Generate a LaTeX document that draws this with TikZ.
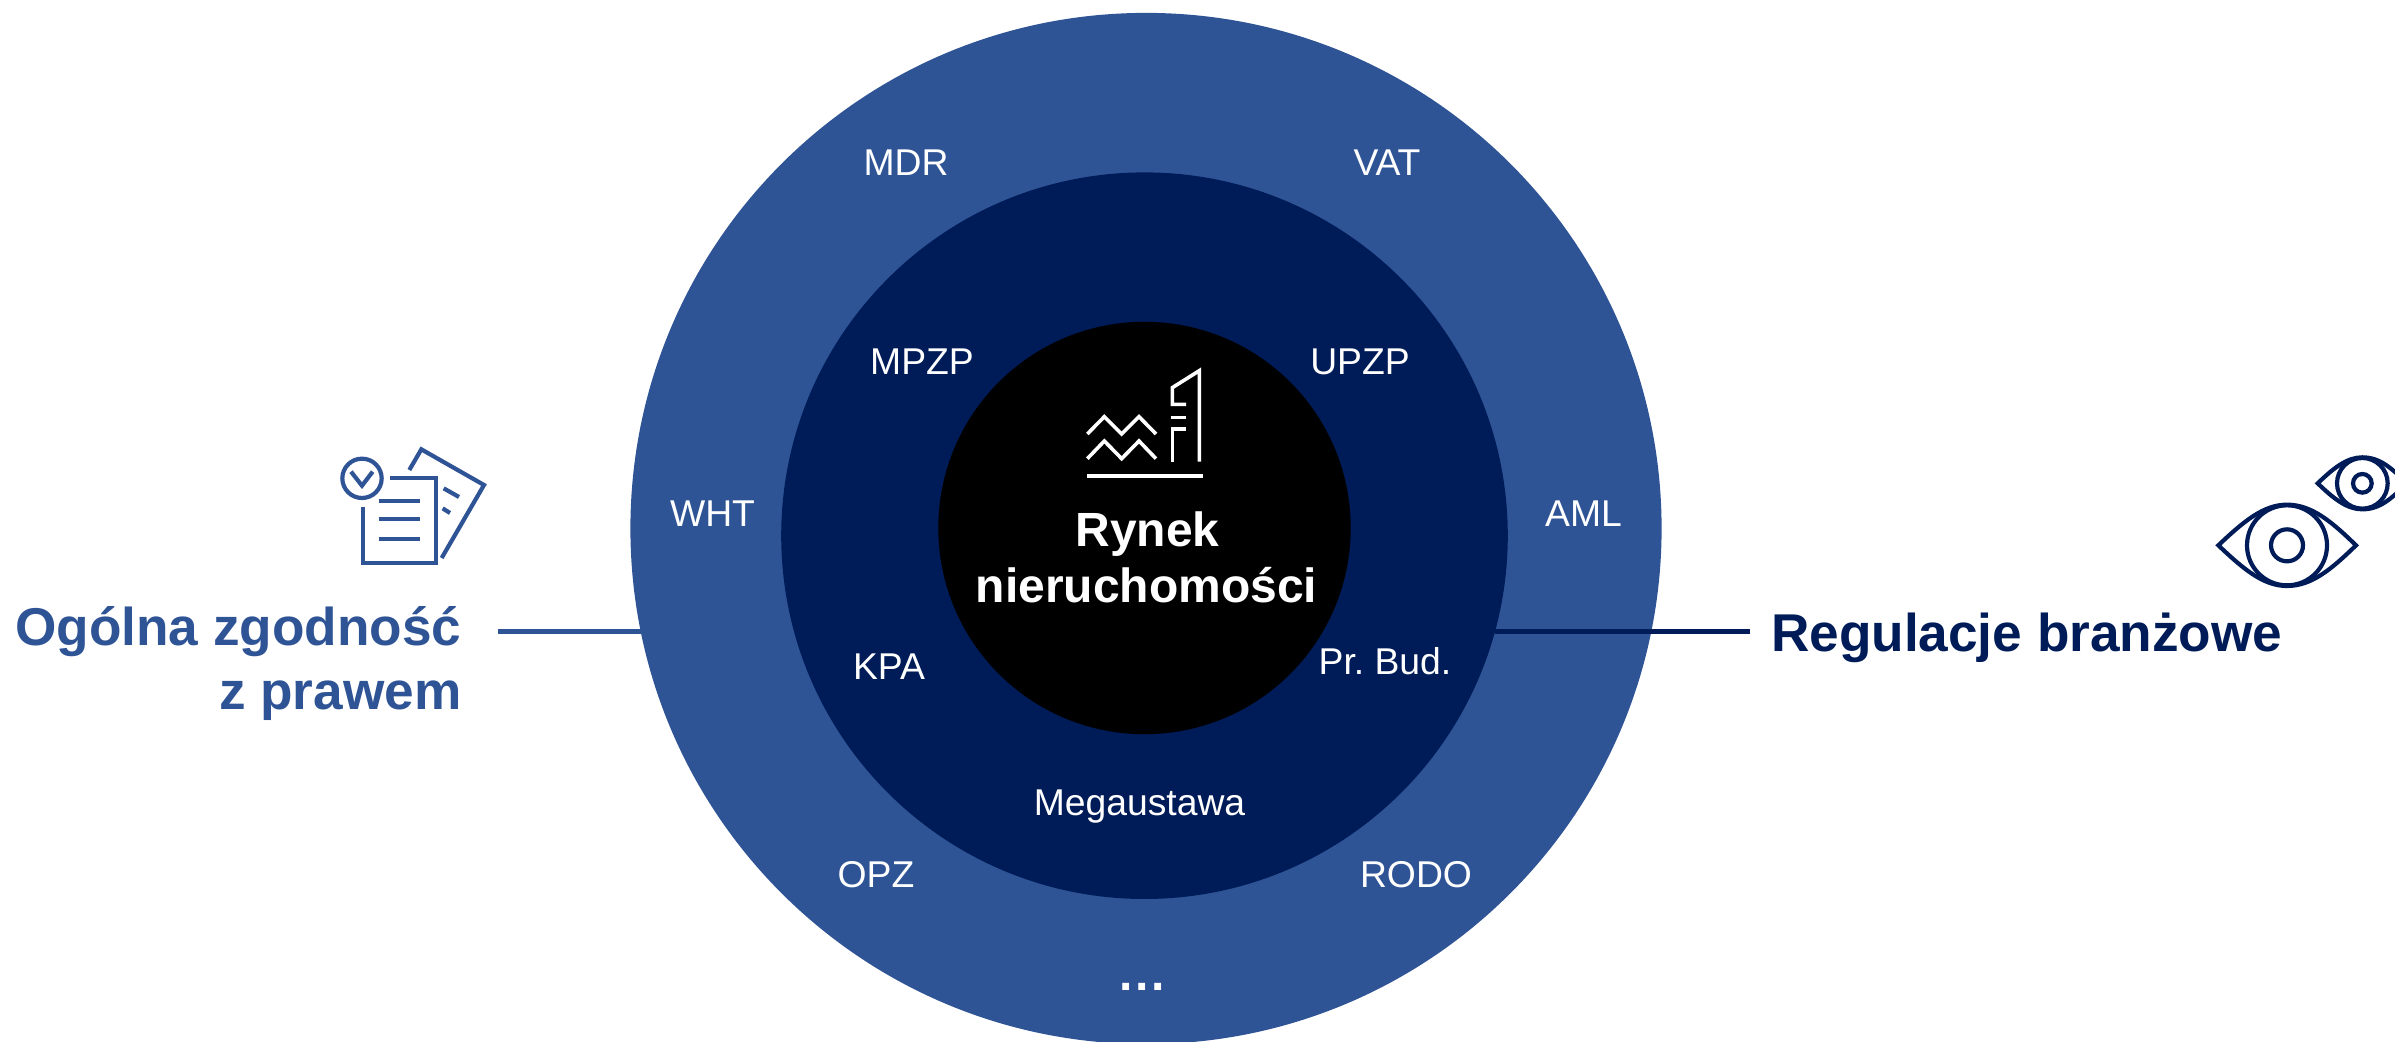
\documentclass[tikz,border=0pt]{standalone}
\usepackage{fontspec}
\setmainfont{Liberation Sans}
\definecolor{ringblue}{HTML}{2F5496}
\definecolor{ringdark}{HTML}{001C58}
\tikzset{
  disc/.style={circle,inner sep=0pt,outer sep=0pt,draw=none},
  lbl/.style={anchor=base,inner sep=0pt,outer sep=0pt,text=white,font=\fontsize{18.65pt}{22pt}\selectfont},
  title/.style={inner sep=0pt,outer sep=0pt,font=\fontsize{26.6pt}{32pt}\bfseries\selectfont},
  centre/.style={anchor=base,inner sep=0pt,outer sep=0pt,text=white,font=\fontsize{24pt}{28pt}\bfseries\selectfont},
  link/.style={line width=2.1pt},
  iconb/.style={draw=ringblue,line width=2.1pt,fill=none,line cap=butt,line join=miter},
  icond/.style={draw=ringdark,line width=2.1pt,fill=none,line join=miter},
  iconw/.style={draw=white,line width=1.8pt,fill=none,line join=miter}
}
\begin{document}
\begin{tikzpicture}[x=0.5pt,y=-0.5pt]
\useasboundingbox (0,0) rectangle (2395,1042);
\clip (0,0) rectangle (2395,1042);
% rings
\node[disc,fill=ringblue,minimum size=515.6pt] (outer) at (1146,528.5) {};
\node[disc,fill=ringdark,minimum size=363.3pt] (middle) at (1144.5,535.7) {};
\node[disc,fill=black,minimum size=206.2pt] (core) at (1144.5,528) {};
% connectors
\coordinate (ls) at (498,631.6);
\coordinate (le) at (641,631.6);
\coordinate (rs) at (1494.5,631.6);
\coordinate (re) at (1750,631.6);
\draw[link,ringblue] (ls) -- (le);
\draw[link,ringdark] (rs) -- (re);
% outer labels
\node[lbl] (mdr) at (906,176) {MDR};
\node[lbl] (vat) at (1387,176) {VAT};
\node[lbl] (wht) at (712.5,526.7) {WHT};
\node[lbl] (aml) at (1583.5,526.7) {AML};
\node[lbl] (opz) at (876,887) {OPZ};
\node[lbl] (rodo) at (1416,887) {RODO};
\node[lbl,font=\fontsize{24pt}{28pt}\bfseries\selectfont] (more) at (1142.5,990) {.\hspace{1.35pt}.\hspace{1.35pt}.};
% middle labels
\node[lbl] (mpzp) at (922,374.5) {MPZP};
\node[lbl] (upzp) at (1360,374.5) {UPZP};
\node[lbl] (kpa) at (889,680) {KPA};
\node[lbl] (prbud) at (1385,675) {Pr.\ Bud.};
\node[lbl] (mega) at (1139.5,815) {Megaustawa};
% centre labels
\node[centre] (rynek) at (1147.5,547) {Rynek};
\node[centre] (nier) at (1146.5,603) {nieruchomości};
% side titles
\node[title,text=ringblue,align=right,anchor=base east] (ogolna) at (461.5,709.3) {Ogólna zgodność\\z prawem};
\node[title,text=ringdark,anchor=base west] (regul) at (1771,651.7) {Regulacje branżowe};
% document icon
\begin{scope}[shift={(300,420)},x=0.16667pt,y=-0.16667pt]
\draw[iconb] (186,175) circle[radius=59];
\draw[iconb] (153,155) -- (186,197) -- (218,155);
\draw[iconb] (270,175) -- (408,175) -- (408,430) -- (190,430) -- (190,260);
\draw[iconb] (236,243) -- (360,243);
\draw[iconb] (236,298) -- (360,298);
\draw[iconb] (236,356) -- (360,356);
\draw[iconb] (328,150) -- (364,88) -- (552,195) -- (425,414);
\draw[iconb] (431,205) -- (477,231);
\draw[iconb] (428,265) -- (450,279);
\end{scope}
% eyes icon
\begin{scope}[shift={(2200,430)},x=0.16667pt,y=-0.16667pt]
\draw[icond] (55,346) .. controls (130,275) and (190,224) .. (261,224) .. controls (335,224) and (395,275) .. (468,346) .. controls (395,417) and (335,468) .. (261,468) .. controls (190,468) and (130,417) .. (55,346) -- cycle;
\draw[icond] (261,346) circle[radius=120];
\draw[icond] (261,346) circle[radius=48];
\draw[icond] (353,160) .. controls (400,115) and (440,82) .. (487,82) .. controls (540,82) and (575,115) .. (621,160) .. controls (575,205) and (540,238) .. (487,238) .. controls (440,238) and (400,205) .. (353,160) -- cycle;
\draw[icond] (487,160) circle[radius=76];
\draw[icond] (487,160) circle[radius=28];
\end{scope}
% building icon
\begin{scope}[shift={(1060,350)},x=0.16667pt,y=-0.16667pt]
\draw[iconw] (82,252) -- (133,200) -- (185,252) -- (237,200) -- (288,252);
\draw[iconw] (82,326) -- (133,273) -- (185,326) -- (237,273) -- (288,326);
\draw[iconw,line width=2.1pt] (80,378) -- (430,378);
\draw[iconw] (418,335) -- (418,62) -- (337,113) -- (337,163) -- (378,163);
\draw[iconw] (332,203) -- (378,203);
\draw[iconw] (378,237) -- (338,237) -- (338,335);
\end{scope}
\end{tikzpicture}
\end{document}
